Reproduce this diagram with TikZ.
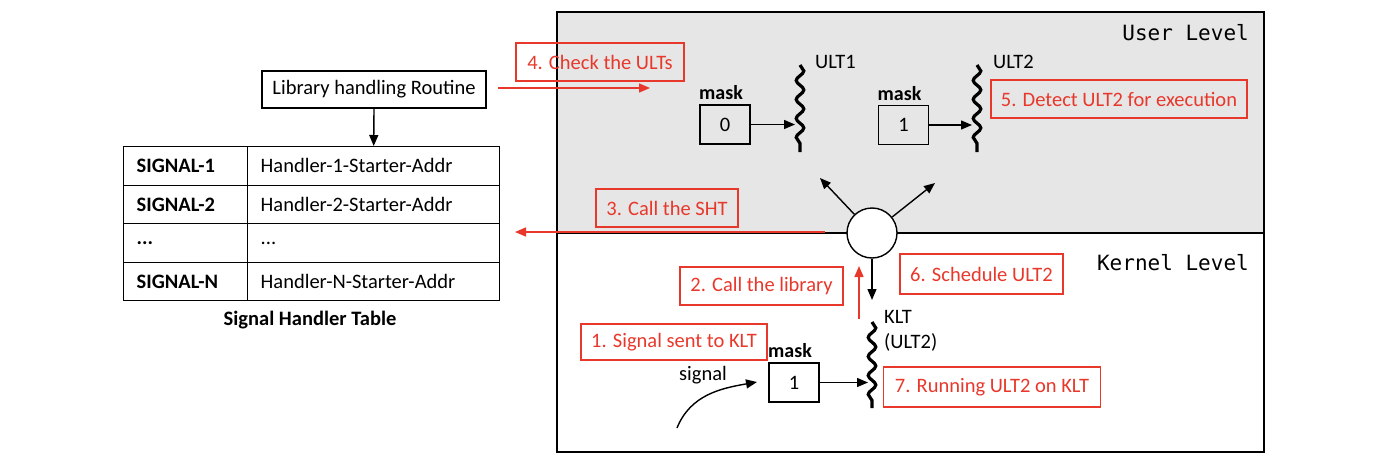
\documentclass[tikz,border=0pt]{standalone}
\usepackage{fontspec}
\setmainfont{Carlito}
\setmonofont{DejaVu Sans Mono}
\usetikzlibrary{arrows.meta,decorations.pathmorphing}
\definecolor{redc}{RGB}{232,56,43}
\definecolor{greyc}{RGB}{230,230,230}
\tikzset{
 base/.style={font=\fontsize{20.5}{25}\selectfont},
 blk/.style={draw, line width=1.4pt, inner sep=0pt},
 redbox/.style={draw=redc, text=redc, line width=1.2pt, inner sep=0pt, font=\fontsize{20.5}{24}\selectfont, minimum height=38pt},
 arr/.style={line width=1.4pt, -{Triangle[length=11pt,width=9pt]}},
 rarr/.style={arr, draw=redc},
 wave/.style={decorate, decoration={snake, amplitude=3.8pt, segment length=19pt}, line width=3.2pt},
 cell/.style={draw, line width=1.4pt, minimum height=38.5pt, inner xsep=13pt, inner ysep=0pt, align=left, anchor=north west, font=\fontsize{20.5}{24}\selectfont},
 maskbox/.style={blk, minimum width=50pt, minimum height=39pt, font=\fontsize{20.5}{24}\selectfont},
 masklbl/.style={inner sep=0pt, anchor=south, font=\fontsize{20}{24}\selectfont\bfseries},
 level/.style={anchor=east, inner sep=0pt, font=\fontsize{21}{24}\selectfont\ttfamily},
}
\begin{document}
\begin{tikzpicture}[x=1pt,y=-1pt]
\useasboundingbox (0,0) rectangle (1400,463);
% levels
\node[draw, line width=1.5pt, fill=greyc, minimum width=707pt, minimum height=221pt, inner sep=0pt] (user) at (910.5,122.5) {};
\node[draw, line width=1.5pt, minimum width=707pt, minimum height=219pt, inner sep=0pt] (kernel) at (910.5,342.5) {};
\node[level] (ul) at (1249,33) {User Level};
\node[level] (kl) at (1249,263) {Kernel Level};
% library routine and table
\node[blk, minimum width=224pt, minimum height=37pt, base] (lib) at (374,89.5) {Library handling Routine};
\node[cell, text width=98pt, font=\fontsize{20.5}{24}\selectfont\bfseries] (c11) at (123,146) {SIGNAL-1};
\node[cell, text width=226pt] (c12) at (247,146) {Handler-1-Starter-Addr};
\node[cell, text width=98pt, font=\fontsize{20.5}{24}\selectfont\bfseries] (c21) at (123,184.5) {SIGNAL-2};
\node[cell, text width=226pt] (c22) at (247,184.5) {Handler-2-Starter-Addr};
\node[cell, text width=98pt, font=\fontsize{20.5}{24}\selectfont\bfseries] (c31) at (123,223) {...};
\node[cell, text width=226pt] (c32) at (247,223) {...};
\node[cell, text width=98pt, font=\fontsize{20.5}{24}\selectfont\bfseries] (c41) at (123,261.5) {SIGNAL-N};
\node[cell, text width=226pt] (c42) at (247,261.5) {Handler-N-Starter-Addr};
\node[font=\fontsize{20.5}{24}\selectfont\bfseries] (cap) at (310,320) {Signal Handler Table};
\draw[arr] (lib.south) -- (c12.north);
% ULTs
\node[maskbox] (m0) at (725,124.5) {0};
\node[maskbox] (m1) at (903.5,125) {1};
\node[masklbl] (m0l) at ([xshift=-4pt,yshift=4pt]m0.north) {mask};
\node[masklbl] (m1l) at ([xshift=-4pt,yshift=4pt]m1.north) {mask};
\coordinate (u1t) at (800,65); \coordinate (u1b) at (800,152);
\coordinate (u2t) at (977,65); \coordinate (u2b) at (977,152);
\draw[wave] (u1t) -- (u1b);
\draw[wave] (u2t) -- (u2b);
\node[base, anchor=west, inner sep=0pt] (u1l) at (815,62) {ULT1};
\node[base, anchor=west, inner sep=0pt] (u2l) at (993,62) {ULT2};
\coordinate (u1in) at (795,124.5);
\coordinate (u2in) at (972,125);
\draw[arr] (m0.east) -- (u1in);
\draw[arr] (m1.east) -- (u2in);
% circle
\node[draw, line width=1.4pt, circle, fill=white, minimum size=50pt, inner sep=0pt] (circ) at (872,233) {};
\coordinate (cl) at (820,178);
\coordinate (cr) at (935,183);
\coordinate (cd) at (872,300);
\draw[arr] (circ) -- (cl);
\draw[arr] (circ) -- (cr);
\draw[arr] (circ.south) -- (cd);
% KLT
\coordinate (kt) at (872,322); \coordinate (kb) at (872,408);
\draw[wave] (kt) -- (kb);
\node[base, anchor=west, inner sep=0pt, align=left] (kltl) at (884,330.5) {KLT\\(ULT2)};
\node[maskbox] (mb) at (794,382.5) {1};
\node[masklbl] (mbl) at ([xshift=-4pt,yshift=4pt]mb.north) {mask};
\coordinate (kin) at (868,382.5);
\draw[arr] (mb.east) -- (kin);
\node[base, inner sep=0pt] (sig) at (703,375) {signal};
\coordinate (sigs) at (677,428);
\coordinate (sige) at (757,382);
\draw[arr] (sigs) to[out=68,in=190] (sige);
% red steps
\node[redbox, minimum width=168pt] (s4) at (600,62) {4. Check the ULTs};
\node[redbox, minimum width=256pt] (s5) at (1119,99) {5. Detect ULT2 for execution};
\node[redbox, minimum width=142pt] (s3) at (667,208) {3. Call the SHT};
\node[redbox, minimum width=163pt] (s2) at (761.5,286) {2. Call the library};
\node[redbox, minimum width=186pt, minimum height=36pt] (s1) at (674,342) {1. Signal sent to KLT};
\node[redbox, minimum width=163pt, minimum height=40pt] (s6) at (981.5,274) {6. Schedule ULT2};
\node[redbox, minimum width=217pt, minimum height=40pt] (s7) at (992,387) {7. Running ULT2 on KLT};
\coordinate (r4s) at (498,88); \coordinate (r4e) at (650,88);
\coordinate (r3s) at (825,232); \coordinate (r3e) at (515,232);
\coordinate (r2s) at (859,319); \coordinate (r2e) at (859,266);
\draw[rarr] (r4s) -- (r4e);
\draw[rarr] (r3s) -- (r3e);
\draw[rarr] (r2s) -- (r2e);
\end{tikzpicture}
\end{document}
